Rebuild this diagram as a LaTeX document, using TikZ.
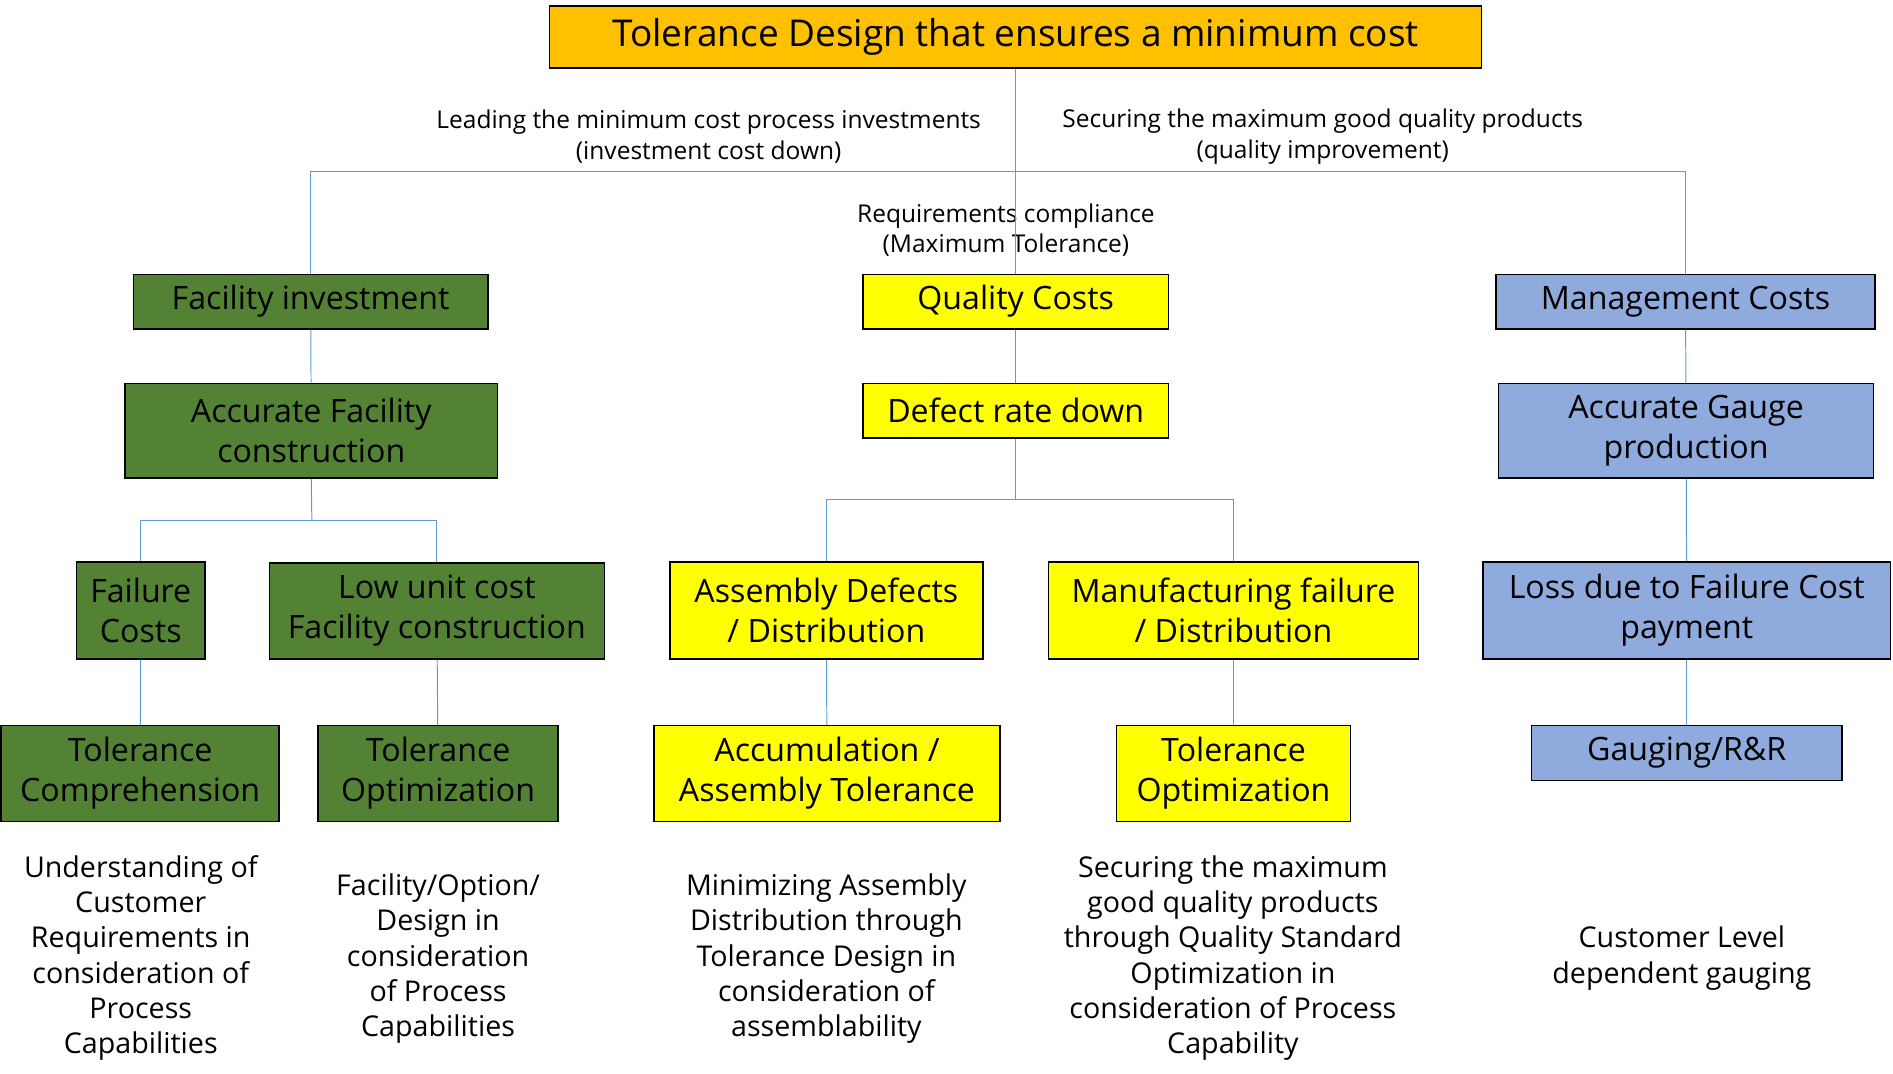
\documentclass[tikz,border=0pt]{standalone}
\usepackage{fontspec}
\setmainfont{Open Sans}
\usepackage{tikz}
\usetikzlibrary{positioning}
\definecolor{topgold}{HTML}{FFC000}
\definecolor{facgreen}{HTML}{548235}
\definecolor{qualyellow}{HTML}{FFFF00}
\definecolor{mgmtblue}{HTML}{8FAADC}
\definecolor{linkblue}{HTML}{5B9BD5}
\tikzset{
        x=1pt, y=-1pt, % one unit per pixel of the layout
        every node/.style={text=black},
    }
\tikzstyle{box}=[draw=black,line width=1.2pt,inner sep=0pt,align=center,font=\fontsize{26.5}{33}\selectfont]
\tikzstyle{link}=[draw=linkblue,line width=0.8pt]
\tikzstyle{note}=[align=center,font=\fontsize{20.2}{25}\selectfont]
\tikzstyle{remark}=[align=center,font=\fontsize{23.6}{29}\selectfont]

\begin{document}
\begin{tikzpicture}
    \useasboundingbox (0,0) rectangle (1560,885);
    % top
    \node[box,fill=topgold,minimum width=768pt,minimum height=51pt,font=\fontsize{30.5}{36}\selectfont] (goal) at (837,30.5) {Tolerance Design that ensures a minimum cost};
    % first row
    \node[box,fill=facgreen,minimum width=292pt,minimum height=45pt] (facinv) at (256,248.5) {Facility investment};
    \node[box,fill=qualyellow,minimum width=252pt,minimum height=45pt] (qcost) at (837,248.5) {Quality Costs};
    \node[box,fill=mgmtblue,minimum width=312pt,minimum height=45pt] (mcost) at (1389,248.5) {Management Costs};
    % second row
    \node[box,fill=facgreen,minimum width=307pt,minimum height=78pt] (accfac) at (256.5,355) {Accurate Facility\\construction};
    \node[box,fill=qualyellow,minimum width=252pt,minimum height=45pt] (defect) at (837,338.5) {Defect rate down};
    \node[box,fill=mgmtblue,minimum width=309pt,minimum height=78pt] (accgauge) at (1389.5,355) {Accurate Gauge\\production};
    % third row
    \node[box,fill=facgreen,minimum width=106pt,minimum height=80pt] (failcost) at (116,503) {Failure\\Costs};
    \node[box,fill=facgreen,minimum width=276pt,minimum height=79pt] (lowunit) at (360,503.5) {Low unit cost\\Facility construction};
    \node[box,fill=qualyellow,minimum width=258pt,minimum height=80pt] (asmdef) at (681,503) {Assembly Defects\\/ Distribution};
    \node[box,fill=qualyellow,minimum width=305pt,minimum height=80pt] (mfgfail) at (1016.5,503) {Manufacturing failure\\/ Distribution};
    \node[box,fill=mgmtblue,minimum width=336pt,minimum height=80pt] (loss) at (1390,503) {Loss due to Failure Cost\\payment};
    % fourth row
    \node[box,fill=facgreen,minimum width=229pt,minimum height=79pt] (tolcomp) at (115.5,637.5) {Tolerance\\Comprehension};
    \node[box,fill=facgreen,minimum width=198pt,minimum height=79pt] (tolopta) at (361,637.5) {Tolerance\\Optimization};
    \node[box,fill=qualyellow,minimum width=285pt,minimum height=79pt] (accum) at (681.5,637.5) {Accumulation /\\Assembly Tolerance};
    \node[box,fill=qualyellow,minimum width=193pt,minimum height=79pt] (toloptb) at (1016.5,637.5) {Tolerance\\Optimization};
    \node[box,fill=mgmtblue,minimum width=256pt,minimum height=45pt] (gauging) at (1390,620.5) {Gauging/R\&R};
    % branch labels
    \node[note] (leadlbl) at (584,112.5) {Leading the minimum cost process investments\\(investment cost down)};
    \node[note] (securelbl) at (1090,112.5) {Securing the maximum good quality products\\(quality improvement)};
    \node[note] (reqlbl) at (829,189.5) {Requirements compliance\\(Maximum Tolerance)};
    % remarks
    \node[remark] (remcomp) at (116,789.5) {Understanding of\\Customer\\Requirements in\\consideration of\\Process\\Capabilities};
    \node[remark] (remopta) at (361,790) {Facility/Option/\\Design in\\consideration\\of Process\\Capabilities};
    \node[remark] (remaccum) at (681,790) {Minimizing Assembly\\Distribution through\\Tolerance Design in\\consideration of\\assemblability};
    \node[remark] (remoptb) at (1016,789.5) {Securing the maximum\\good quality products\\through Quality Standard\\Optimization in\\consideration of Process\\Capability};
    \node[remark] (remgauge) at (1386,789.5) {Customer Level\\dependent gauging};
    % connectors
    \coordinate (topbar) at (837,141);
    \coordinate (facbar) at (257,429);
    \coordinate (defbar) at (837,412);
    \draw[link] (goal.south) -- (qcost.north);
    \draw[link] (facinv.north) |- (topbar) -| (mcost.north);
    \draw[link] (facinv) -- (accfac);
    \draw[link] (qcost) -- (defect);
    \draw[link] (mcost) -- (accgauge);
    \draw[link] (accfac.south) -- (facbar);
    \draw[link] (failcost.north) |- (facbar) -| (lowunit.north);
    \draw[link] (defect.south) -- (defbar);
    \draw[link] (asmdef.north) |- (defbar) -| (mfgfail.north);
    \draw[link] (accgauge) -- (loss);
    \draw[link] (failcost) -- (tolcomp);
    \draw[link] (lowunit) -- (tolopta);
    \draw[link] (asmdef) -- (accum);
    \draw[link] (mfgfail) -- (toloptb);
    \draw[link] (loss) -- (gauging);
\end{tikzpicture}
\end{document}
